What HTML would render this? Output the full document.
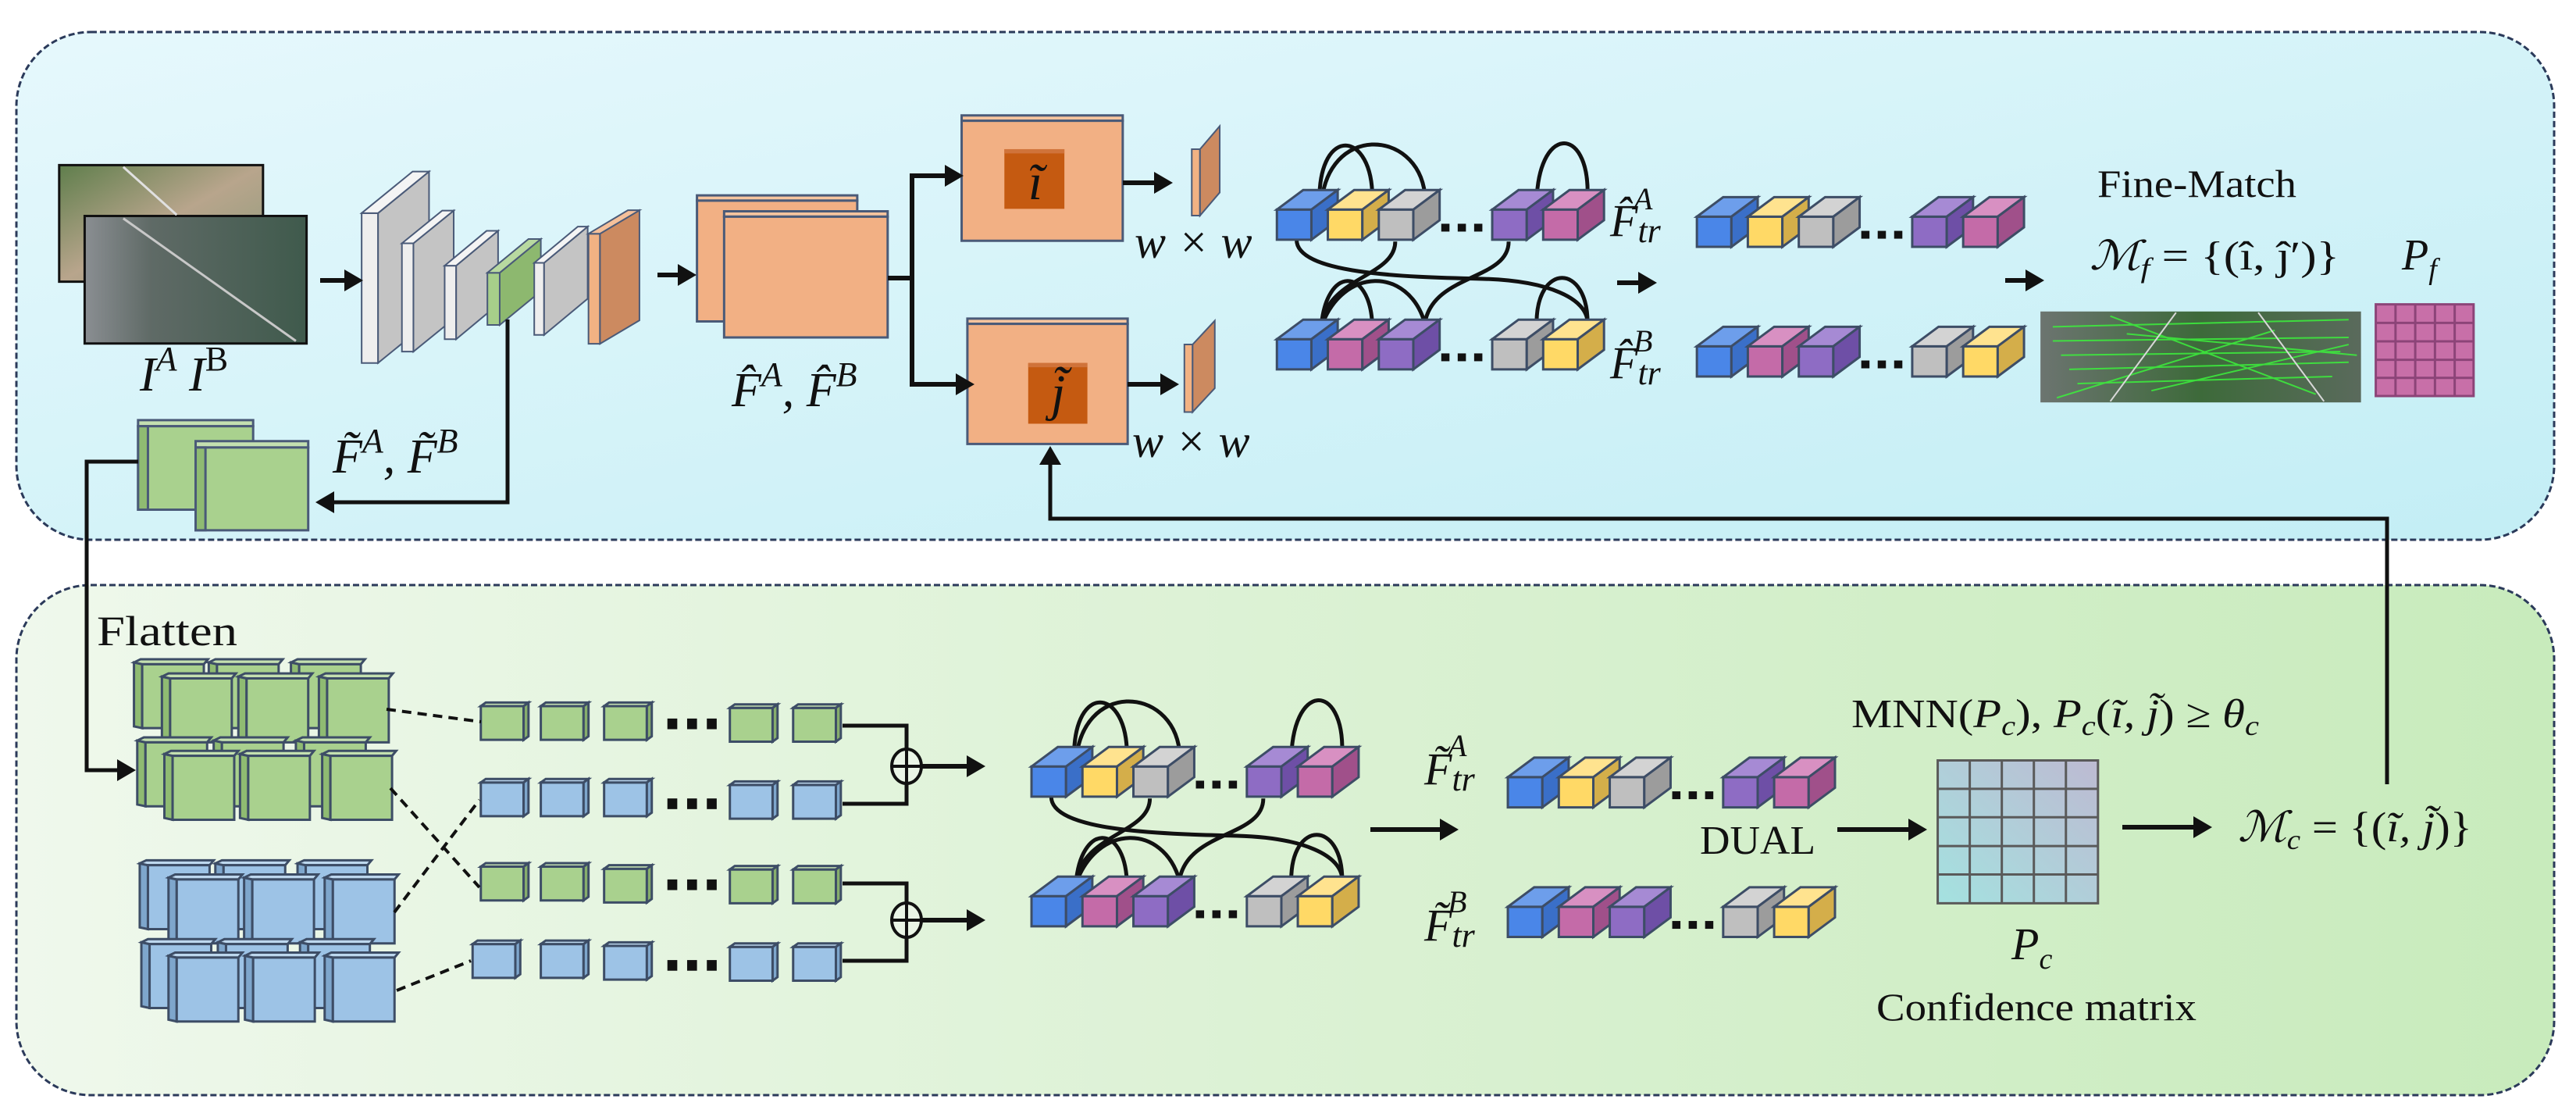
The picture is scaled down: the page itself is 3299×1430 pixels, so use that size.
<!DOCTYPE html>
<html><head><meta charset="utf-8"><style>
html,body{margin:0;padding:0;background:#fff;}
svg *{vector-effect:non-scaling-stroke;}
text{font-family:"Liberation Serif","DejaVu Serif",serif;fill:#111;}
.it{font-style:italic;}
</style></head><body>
<svg width="3299" height="1425" viewBox="0 0 3299 1425" xmlns="http://www.w3.org/2000/svg">
<defs>
<linearGradient id="gTop" x1="0" y1="0" x2="1" y2="1"><stop offset="0" stop-color="#e6f8fc"/><stop offset="1" stop-color="#c3eef5"/></linearGradient>
<linearGradient id="gBot" x1="0" y1="0" x2="1" y2="0"><stop offset="0" stop-color="#eff8ec"/><stop offset="1" stop-color="#c8ebbc"/></linearGradient>
<linearGradient id="gMat" x1="0" y1="1" x2="1" y2="0"><stop offset="0" stop-color="#a4e2e0"/><stop offset="1" stop-color="#bdbad2"/></linearGradient>
<linearGradient id="sat1" x1="0" y1="0" x2="1" y2="1"><stop offset="0" stop-color="#5f7e4c"/><stop offset="0.5" stop-color="#b8a58c"/><stop offset="1" stop-color="#8b9a7a"/></linearGradient>
<linearGradient id="sat2" x1="0" y1="0" x2="1" y2="0"><stop offset="0" stop-color="#8a8e92"/><stop offset="0.3" stop-color="#5f6a66"/><stop offset="1" stop-color="#3f5a4c"/></linearGradient>
<linearGradient id="sat3" x1="0" y1="0" x2="1" y2="0"><stop offset="0" stop-color="#6c7470"/><stop offset="0.5" stop-color="#3d6a3a"/><stop offset="1" stop-color="#5a6a5c"/></linearGradient>

<g id="cB"><rect x="0" y="0" width="42" height="85" fill="#4a86e8" stroke="#3d4d66" stroke-width="3"/><polygon points="0,0 32,-55 74,-55 42,0" fill="#6d9eeb" stroke="#3d4d66" stroke-width="3"/><polygon points="42,0 74,-55 74,30 42,85" fill="#3a6fc8" stroke="#3d4d66" stroke-width="3"/></g>
<g id="cY"><rect x="0" y="0" width="42" height="85" fill="#ffd966" stroke="#3d4d66" stroke-width="3"/><polygon points="0,0 32,-55 74,-55 42,0" fill="#ffe38f" stroke="#3d4d66" stroke-width="3"/><polygon points="42,0 74,-55 74,30 42,85" fill="#d4ae4a" stroke="#3d4d66" stroke-width="3"/></g>
<g id="cG"><rect x="0" y="0" width="42" height="85" fill="#bfbfbf" stroke="#3d4d66" stroke-width="3"/><polygon points="0,0 32,-55 74,-55 42,0" fill="#d3d3d3" stroke="#3d4d66" stroke-width="3"/><polygon points="42,0 74,-55 74,30 42,85" fill="#9c9c9c" stroke="#3d4d66" stroke-width="3"/></g>
<g id="cP"><rect x="0" y="0" width="42" height="85" fill="#8e6cc4" stroke="#3d4d66" stroke-width="3"/><polygon points="0,0 32,-55 74,-55 42,0" fill="#a68ad4" stroke="#3d4d66" stroke-width="3"/><polygon points="42,0 74,-55 74,30 42,85" fill="#6e4fa6" stroke="#3d4d66" stroke-width="3"/></g>
<g id="cK"><rect x="0" y="0" width="42" height="85" fill="#c46ba8" stroke="#3d4d66" stroke-width="3"/><polygon points="0,0 32,-55 74,-55 42,0" fill="#d890c2" stroke="#3d4d66" stroke-width="3"/><polygon points="42,0 74,-55 74,30 42,85" fill="#a0508a" stroke="#3d4d66" stroke-width="3"/></g>
<g id="dots"><rect x="200" y="40" width="10" height="22" fill="#111"/><rect x="220" y="40" width="10" height="22" fill="#111"/><rect x="240" y="40" width="10" height="22" fill="#111"/></g>
<g id="rows">
 <use href="#cB" x="0" y="0"/><use href="#cY" x="62" y="0"/><use href="#cG" x="124" y="0"/><use href="#dots"/><use href="#cP" x="262" y="0"/><use href="#cK" x="324" y="0"/>
 <use href="#cB" x="0" y="365"/><use href="#cK" x="62" y="365"/><use href="#cP" x="124" y="365"/><use href="#dots" y="365"/><use href="#cG" x="262" y="365"/><use href="#cY" x="324" y="365"/>
</g>
<g id="tf">
 <g fill="none" stroke="#111" stroke-width="5">
  <path d="M52,-10 C48,-230 112,-230 116,-50"/>
  <path d="M54,-10 C60,-240 170,-230 180,-45"/>
  <path d="M316,-10 C316,-240 380,-240 378,-40"/>
  <path d="M24,85 C24,180 150,190 250,195 C330,200 378,250 378,320"/>
  <path d="M144,90 C144,190 60,190 54,330"/>
  <path d="M282,90 C282,200 190,180 180,320"/>
  <path d="M54,330 C60,160 112,160 116,320"/>
  <path d="M54,330 C80,160 160,160 180,320"/>
  <path d="M316,320 C316,150 378,150 378,320"/>
 </g>
 <use href="#rows"/>
</g>
<g id="tokG"><rect x="0" y="10" width="52" height="95" fill="#a9d18e" stroke="#3d4d66" stroke-width="3"/><polygon points="0,10 6,0 58,0 52,10" fill="#c4e0b0" stroke="#3d4d66" stroke-width="3"/><polygon points="52,10 58,0 58,95 52,105" fill="#86ad6c" stroke="#3d4d66" stroke-width="3"/></g>
<g id="tokB"><rect x="0" y="10" width="52" height="95" fill="#9dc3e6" stroke="#3d4d66" stroke-width="3"/><polygon points="0,10 6,0 58,0 52,10" fill="#bdd7ee" stroke="#3d4d66" stroke-width="3"/><polygon points="52,10 58,0 58,95 52,105" fill="#7ea6cc" stroke="#3d4d66" stroke-width="3"/></g>
<g id="bigG"><polygon points="-10,-5 0,0 0,180 -10,175" fill="#8fbb72" stroke="#3d4d66" stroke-width="3"/><polygon points="-10,-5 -2,-14 80,-14 75,0 0,0" fill="#c4e0b0" stroke="#3d4d66" stroke-width="3"/><rect x="0" y="0" width="75" height="180" fill="#a9d18e" stroke="#3d4d66" stroke-width="3"/></g>
<g id="bigB"><polygon points="-10,-5 0,0 0,180 -10,175" fill="#7ea6cc" stroke="#3d4d66" stroke-width="3"/><polygon points="-10,-5 -2,-14 80,-14 75,0 0,0" fill="#bdd7ee" stroke="#3d4d66" stroke-width="3"/><rect x="0" y="0" width="75" height="180" fill="#9dc3e6" stroke="#3d4d66" stroke-width="3"/></g>
<g id="ah"><polygon points="0,0 -24,-14 -24,14" fill="#111"/></g>
</defs>

<rect x="21" y="41" width="3250" height="650" rx="95" ry="95" fill="url(#gTop)" stroke="#2b3a5a" stroke-width="3" stroke-dasharray="8,4"/>
<rect x="21" y="749" width="3250" height="653" rx="95" ry="95" fill="url(#gBot)" stroke="#2b3a5a" stroke-width="3" stroke-dasharray="8,4"/>

<g transform="scale(1.0526 0.4547)">
 <rect x="72" y="465" width="248" height="328" fill="url(#sat1)" stroke="#111" stroke-width="3"/>
 <rect x="103" y="608" width="270" height="359" fill="url(#sat2)" stroke="#111" stroke-width="3"/>
 <line x1="150" y1="615" x2="360" y2="960" stroke="#c8c8c8" stroke-width="3"/>
 <line x1="150" y1="470" x2="215" y2="605" stroke="#e0e0e0" stroke-width="3"/>
 <g stroke="#4a5a78" stroke-width="2">
  <rect x="440" y="600" width="20" height="422" fill="#eeeeee"/><polygon points="460,600 522,483 522,905 460,1022" fill="#c4c4c4"/><polygon points="440,600 502,483 522,483 460,600" fill="#f4f4f4"/>
  <rect x="489" y="685" width="14" height="305" fill="#eeeeee"/><polygon points="503,685 552,593 552,898 503,990" fill="#c4c4c4"/><polygon points="489,685 538,593 552,593 503,685" fill="#f4f4f4"/>
  <rect x="541" y="748" width="14" height="207" fill="#eeeeee"/><polygon points="555,748 606,650 606,857 555,955" fill="#c4c4c4"/><polygon points="541,748 592,650 606,650 555,748" fill="#f4f4f4"/>
  <rect x="593" y="768" width="15" height="147" fill="#a7cf8a"/><polygon points="608,768 658,673 658,820 608,915" fill="#8db86f"/><polygon points="593,768 643,673 658,673 608,768" fill="#b8d9a0"/>
  <rect x="650" y="740" width="12" height="203" fill="#eeeeee"/><polygon points="662,740 715,638 715,841 662,943" fill="#c4c4c4"/><polygon points="650,740 703,638 715,638 662,740" fill="#f4f4f4"/>
  <rect x="716" y="658" width="14" height="310" fill="#f2b283"/><polygon points="730,658 778,592 778,902 730,968" fill="#cc8a60"/><polygon points="716,658 764,592 778,592 730,658" fill="#f5c09a"/>
 </g>
 <g stroke="#4a5a78" stroke-width="3">
  <rect x="848" y="550" width="195" height="15" fill="#f6c49e"/><rect x="848" y="565" width="195" height="340" fill="#f2b084"/>
  <rect x="881" y="595" width="199" height="15" fill="#f6c49e"/><rect x="881" y="610" width="199" height="340" fill="#f2b084"/>
  <rect x="1170" y="325" width="196" height="15" fill="#f6c49e"/><rect x="1170" y="340" width="196" height="338" fill="#f2b084"/>
  <rect x="1177" y="897" width="195" height="15" fill="#f6c49e"/><rect x="1177" y="912" width="195" height="338" fill="#f2b084"/>
 </g>
 <rect x="1222" y="420" width="73" height="168" fill="#c55a11"/><rect x="1222" y="420" width="73" height="12" fill="#d0733a"/>
 <rect x="1251" y="1022" width="72" height="171" fill="#c55a11"/><rect x="1251" y="1022" width="72" height="12" fill="#d0733a"/>
 <g stroke="#4a5a78" stroke-width="2">
  <rect x="1450" y="420" width="10" height="187" fill="#f2b283"/><polygon points="1460,420 1484,355 1484,542 1460,607" fill="#cc8a60"/>
  <rect x="1441" y="970" width="10" height="190" fill="#f2b283"/><polygon points="1451,970 1478,903 1478,1093 1451,1160" fill="#cc8a60"/>
 </g>
 <g stroke="#4a5a78" stroke-width="3">
  <rect x="168" y="1183" width="140" height="17" fill="#c4e0b0"/><rect x="168" y="1200" width="140" height="235" fill="#a9d18e"/><rect x="168" y="1200" width="12" height="235" fill="#8fbb72"/>
  <rect x="238" y="1242" width="137" height="18" fill="#c4e0b0"/><rect x="238" y="1260" width="137" height="233" fill="#a9d18e"/><rect x="238" y="1260" width="12" height="233" fill="#8fbb72"/>
 </g>
</g>

<g transform="translate(1650 0) scale(1.0526 0.4547)">
 <use href="#tf" transform="translate(-14 590)"/>
 <use href="#rows" transform="translate(497 610)"/>
 <rect x="915" y="877" width="390" height="256" fill="url(#sat3)"/>
 <g stroke="#3cf03c" stroke-width="2" opacity="0.85">
  <line x1="930" y1="920" x2="1290" y2="900"/><line x1="930" y1="960" x2="1290" y2="950"/><line x1="940" y1="1000" x2="1280" y2="990"/><line x1="950" y1="1040" x2="1290" y2="1020"/><line x1="960" y1="1080" x2="1270" y2="1060"/><line x1="1000" y1="890" x2="1250" y2="1110"/><line x1="1020" y1="940" x2="1300" y2="1000"/><line x1="1050" y1="1100" x2="1290" y2="970"/><line x1="935" y1="1120" x2="1200" y2="930"/>
 </g>
 <line x1="1080" y1="880" x2="1000" y2="1130" stroke="#d8d8d8" stroke-width="2"/><line x1="1180" y1="880" x2="1260" y2="1130" stroke="#d8d8d8" stroke-width="2"/>
 <rect x="1323" y="857" width="119" height="258" fill="#c86fa8" stroke="#8c4478" stroke-width="3"/>
 <g stroke="#8c4478" stroke-width="3"><line x1="1347" y1="857" x2="1347" y2="1115"/><line x1="1371" y1="857" x2="1371" y2="1115"/><line x1="1395" y1="857" x2="1395" y2="1115"/><line x1="1419" y1="857" x2="1419" y2="1115"/><line x1="1323" y1="909" x2="1442" y2="909"/><line x1="1323" y1="961" x2="1442" y2="961"/><line x1="1323" y1="1013" x2="1442" y2="1013"/><line x1="1323" y1="1064" x2="1442" y2="1064"/></g>
</g>

<g transform="translate(0 713) scale(1.0526 0.4547)">
 <use href="#bigG" x="173" y="302"/><use href="#bigG" x="264" y="302"/><use href="#bigG" x="364" y="302"/>
 <use href="#bigG" x="207" y="342"/><use href="#bigG" x="300" y="342"/><use href="#bigG" x="398" y="342"/>
 <use href="#bigG" x="177" y="522"/><use href="#bigG" x="270" y="522"/><use href="#bigG" x="370" y="522"/>
 <use href="#bigG" x="210" y="560"/><use href="#bigG" x="302" y="560"/><use href="#bigG" x="402" y="560"/>
 <use href="#bigB" x="180" y="868"/><use href="#bigB" x="272" y="868"/><use href="#bigB" x="372" y="868"/>
 <use href="#bigB" x="215" y="908"/><use href="#bigB" x="307" y="908"/><use href="#bigB" x="405" y="908"/>
 <use href="#bigB" x="182" y="1090"/><use href="#bigB" x="275" y="1090"/><use href="#bigB" x="375" y="1090"/>
 <use href="#bigB" x="215" y="1128"/><use href="#bigB" x="308" y="1128"/><use href="#bigB" x="405" y="1128"/>
 <use href="#tokG" x="585" y="410"/><use href="#tokG" x="658" y="410"/><use href="#tokG" x="735" y="410"/><use href="#tokG" x="888" y="415"/><use href="#tokG" x="965" y="415"/>
 <use href="#tokB" x="585" y="625"/><use href="#tokB" x="658" y="625"/><use href="#tokB" x="735" y="625"/><use href="#tokB" x="888" y="632"/><use href="#tokB" x="965" y="632"/>
 <use href="#tokG" x="585" y="862"/><use href="#tokG" x="658" y="862"/><use href="#tokG" x="735" y="868"/><use href="#tokG" x="888" y="870"/><use href="#tokG" x="965" y="870"/>
 <use href="#tokB" x="575" y="1080"/><use href="#tokB" x="658" y="1080"/><use href="#tokB" x="735" y="1085"/><use href="#tokB" x="888" y="1088"/><use href="#tokB" x="965" y="1088"/>
 <g fill="#111">
  <rect x="812" y="455" width="12" height="30"/><rect x="836" y="455" width="12" height="30"/><rect x="860" y="455" width="12" height="30"/>
  <rect x="812" y="680" width="12" height="30"/><rect x="836" y="680" width="12" height="30"/><rect x="860" y="680" width="12" height="30"/>
  <rect x="812" y="908" width="12" height="30"/><rect x="836" y="908" width="12" height="30"/><rect x="860" y="908" width="12" height="30"/>
  <rect x="812" y="1135" width="12" height="30"/><rect x="836" y="1135" width="12" height="30"/><rect x="860" y="1135" width="12" height="30"/>
 </g>
 <use href="#tf" transform="translate(1255 590)"/>
</g>

<g transform="translate(1650 713) scale(1.0526 0.4547)">
 <use href="#rows" transform="translate(267 620)"/>
 <rect x="790" y="573" width="195" height="402" fill="url(#gMat)" stroke="#5a5a5a" stroke-width="3"/>
 <g stroke="#5a5a5a" stroke-width="3"><line x1="829" y1="573" x2="829" y2="975"/><line x1="868" y1="573" x2="868" y2="975"/><line x1="907" y1="573" x2="907" y2="975"/><line x1="946" y1="573" x2="946" y2="975"/><line x1="790" y1="653" x2="985" y2="653"/><line x1="790" y1="733" x2="985" y2="733"/><line x1="790" y1="814" x2="985" y2="814"/><line x1="790" y1="894" x2="985" y2="894"/></g>
</g>

<g stroke="#111" stroke-width="6" fill="none">
 <line x1="410" y1="359" x2="445" y2="359"/>
 <line x1="842" y1="352" x2="872" y2="352"/>
 <polyline points="1137,356 1168,356"/>
 <polyline points="1214,225 1168,225 1168,492 1228,492"/>
 <line x1="1438" y1="234" x2="1482" y2="234"/>
 <line x1="1444" y1="492" x2="1490" y2="492"/>
 <polyline points="650,409 650,643 425,643" stroke-width="5"/>
 <polyline points="177,591 111,591 111,986 155,986" stroke-width="5"/>
 <polyline points="3057,1004 3057,664 1345,664 1345,590" stroke-width="5"/>
 <line x1="2071" y1="362" x2="2104" y2="362"/>
 <line x1="2568" y1="359" x2="2600" y2="359"/>
 <polyline points="1079,929 1161,929 1161,1029 1079,1029" stroke-width="5"/>
 <polyline points="1079,1131 1161,1131 1161,1230 1079,1230" stroke-width="5"/>
 <line x1="1181" y1="981" x2="1240" y2="981"/>
 <line x1="1181" y1="1178" x2="1240" y2="1178"/>
 <line x1="1755" y1="1062" x2="1846" y2="1062"/>
 <line x1="2353" y1="1062" x2="2446" y2="1062"/>
 <line x1="2718" y1="1059" x2="2811" y2="1059"/>
</g>
<ellipse cx="1161" cy="981" rx="19" ry="22" fill="#eaf5e6" stroke="#111" stroke-width="4"/>
<line x1="1142" y1="981" x2="1180" y2="981" stroke="#111" stroke-width="4"/><line x1="1161" y1="959" x2="1161" y2="1003" stroke="#111" stroke-width="4"/>
<ellipse cx="1161" cy="1178" rx="19" ry="22" fill="#eaf5e6" stroke="#111" stroke-width="4"/>
<line x1="1142" y1="1178" x2="1180" y2="1178" stroke="#111" stroke-width="4"/><line x1="1161" y1="1156" x2="1161" y2="1200" stroke="#111" stroke-width="4"/>
<g stroke="#111" stroke-width="4" stroke-dasharray="12,8">
 <line x1="495" y1="908" x2="616" y2="924"/>
 <line x1="500" y1="1009" x2="614" y2="1136"/>
 <line x1="505" y1="1168" x2="614" y2="1024"/>
 <line x1="508" y1="1268" x2="603" y2="1230"/>
</g>
<use href="#ah" transform="translate(465 359)"/>
<use href="#ah" transform="translate(892 352)"/>
<use href="#ah" transform="translate(1234 225)"/>
<use href="#ah" transform="translate(1248 492)"/>
<use href="#ah" transform="translate(1502 234)"/>
<use href="#ah" transform="translate(1510 492)"/>
<use href="#ah" transform="translate(404 643) rotate(180)"/>
<use href="#ah" transform="translate(174 986)"/>
<use href="#ah" transform="translate(1345 571) rotate(-90)"/>
<use href="#ah" transform="translate(2122 362)"/>
<use href="#ah" transform="translate(2618 359)"/>
<use href="#ah" transform="translate(1262 981)"/>
<use href="#ah" transform="translate(1262 1178)"/>
<use href="#ah" transform="translate(1868 1062)"/>
<use href="#ah" transform="translate(2468 1062)"/>
<use href="#ah" transform="translate(2833 1059)"/>

<text x="179" y="500" font-size="62" class="it">I<tspan dy="-26" font-size="44">A</tspan><tspan dy="26"> </tspan>I<tspan dy="-26" font-size="44" font-style="normal">B</tspan></text>
<text x="937" y="520" font-size="62" class="it">F̂<tspan dy="-26" font-size="44">A</tspan><tspan dy="26">, F̂</tspan><tspan dy="-26" font-size="44">B</tspan></text>
<text x="426" y="605" font-size="62" class="it">F̃<tspan dy="-26" font-size="44">A</tspan><tspan dy="26">, F̃</tspan><tspan dy="-26" font-size="44">B</tspan></text>
<text x="1326" y="255" font-size="66" class="it" text-anchor="middle">ĩ</text>
<text x="1355" y="525" font-size="66" class="it" text-anchor="middle">j̃</text>
<text x="1453" y="330" font-size="60" class="it">w × w</text>
<text x="1450" y="585" font-size="60" class="it">w × w</text>
<text x="2062" y="302" font-size="58" class="it">F̂<tspan dy="8" font-size="44">tr</tspan></text>
<text x="2092" y="268" font-size="40" class="it">A</text>
<text x="2062" y="484" font-size="58" class="it">F̂<tspan dy="8" font-size="44">tr</tspan></text>
<text x="2092" y="450" font-size="40" class="it">B</text>
<text x="2686" y="252" font-size="50" textLength="255" lengthAdjust="spacingAndGlyphs">Fine-Match</text>
<text x="2676" y="345" font-size="52" class="it" textLength="320" lengthAdjust="spacingAndGlyphs">ℳ<tspan dy="10" font-size="36">f</tspan><tspan dy="-10" font-style="normal"> = {(î, ĵ′)}</tspan></text>
<text x="3076" y="345" font-size="56" class="it">P<tspan dy="12" font-size="38">f</tspan></text>
<text x="124" y="826" font-size="54" textLength="180" lengthAdjust="spacingAndGlyphs">Flatten</text>
<text x="1824" y="1004" font-size="58" class="it">F̃<tspan dy="8" font-size="44">tr</tspan></text>
<text x="1854" y="968" font-size="40" class="it">A</text>
<text x="1824" y="1204" font-size="58" class="it">F̃<tspan dy="8" font-size="44">tr</tspan></text>
<text x="1854" y="1168" font-size="40" class="it">B</text>
<text x="2177" y="1093" font-size="52" textLength="148" lengthAdjust="spacingAndGlyphs">DUAL</text>
<text x="2371" y="931" font-size="52" textLength="522" lengthAdjust="spacingAndGlyphs">MNN(<tspan class="it">P</tspan><tspan dy="10" font-size="36" class="it">c</tspan><tspan dy="-10">), </tspan><tspan class="it">P</tspan><tspan dy="10" font-size="36" class="it">c</tspan><tspan dy="-10">(</tspan><tspan class="it">ĩ, j̃</tspan>) ≥ <tspan class="it">θ</tspan><tspan dy="10" font-size="36" class="it">c</tspan></text>
<text x="2866" y="1077" font-size="54" class="it" textLength="300" lengthAdjust="spacingAndGlyphs">ℳ<tspan dy="10" font-size="36">c</tspan><tspan dy="-10" font-style="normal"> = {(</tspan>ĩ, j̃<tspan font-style="normal">)}</tspan></text>
<text x="2576" y="1228" font-size="58" class="it">P<tspan dy="12" font-size="38">c</tspan></text>
<text x="2403" y="1306" font-size="50" textLength="410" lengthAdjust="spacingAndGlyphs">Confidence matrix</text>
</svg>
</body></html>
